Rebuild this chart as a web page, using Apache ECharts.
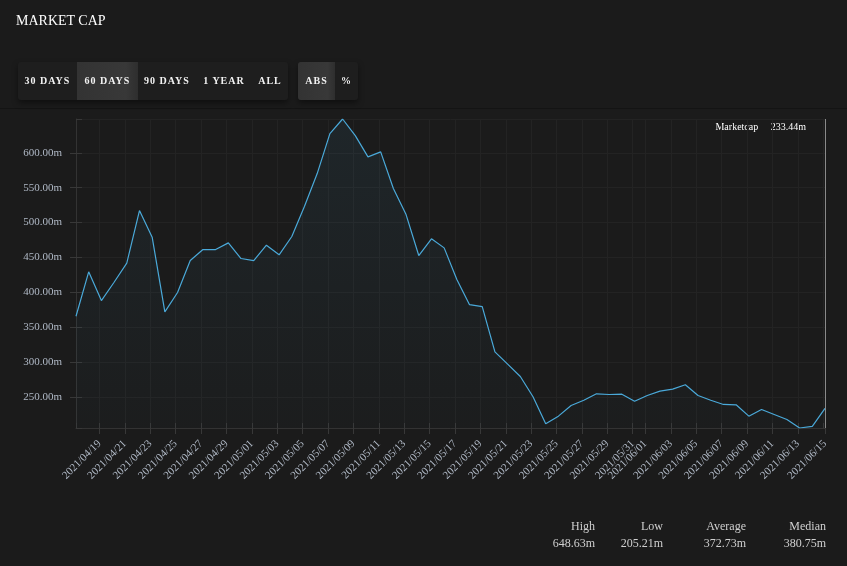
<!DOCTYPE html>
<html>
<head>
<meta charset="utf-8">
<script src="https://cdn.jsdelivr.net/npm/echarts@6/dist/echarts.min.js"></script>
<style>
  html, body { margin:0; padding:0; background:#1b1b1b; width:847px; height:566px; overflow:hidden;
    font-family:"Liberation Serif","DejaVu Serif",serif; }
  #chart { position:absolute; left:0; top:0; width:847px; height:566px; }
  .title { position:absolute; left:16px; top:13px; color:#fff; font-size:14px; }
  .divider { position:absolute; left:0; top:108px; width:847px; height:1px; background:#141414; }
  .group { position:absolute; top:62px; height:38px; background:#1e1e1e; border-radius:3px;
    box-shadow:0 3px 6px rgba(0,0,0,0.45); display:flex; overflow:hidden; }
  .btn { height:38px; line-height:38px; color:#f2f2f2; font-size:10px; font-weight:bold;
    letter-spacing:1px; text-align:center; }
  .btn.sel { background:linear-gradient(90deg,#333 0%,#383838 80%,#2e2e2e 100%); }
  .stat { position:absolute; color:#d0d0d0; font-size:12px; text-align:right; width:80px; }
</style>
</head>
<body>
<div id="chart"></div>
<div class="title">MARKET CAP</div>
<div class="divider"></div>
<div class="group" style="left:18px;width:270px;">
  <div class="btn" style="width:59px">30 DAYS</div>
  <div class="btn sel" style="width:61px">60 DAYS</div>
  <div class="btn" style="width:58px">90 DAYS</div>
  <div class="btn" style="width:56px">1 YEAR</div>
  <div class="btn" style="width:36px">ALL</div>
</div>
<div class="group" style="left:298px;width:60px;">
  <div class="btn sel" style="width:37px">ABS</div>
  <div class="btn" style="width:23px">%</div>
</div>
<div id="stats"></div>
<script>
// ---- data ----
const startDate = '2021-04-17T03:30:00';
const marketCap = [
  365.6, 429.3, 388.1, 414.4, 441.7, 517.3, 479.0, 371.9, 399.6, 445.5,
  461.3, 461.3, 470.9, 448.4, 445.5, 467.5, 453.7, 480.0, 523.4, 570.3,
  627.7, 648.63, 624.8, 594.3, 601.5, 548.8, 511.5, 452.7, 476.7, 463.7,
  418.3, 382.2, 379.3, 314.5, 296.8, 279.1, 250.0, 211.4, 222.2, 237.5,
  245.0, 254.3, 253.3, 253.7, 243.7, 251.9, 258.1, 261.0, 267.2, 251.9,
  245.1, 239.0, 238.5, 222.2, 231.8, 224.6, 217.4, 205.21, 207.5, 233.44
];
const statLabels = ['High', 'Low', 'Average', 'Median'];
const statValues = ['648.63m', '205.21m', '372.73m', '380.75m'];
const seriesName = 'Marketcap';

// consecutive daily timestamps
const DAY = 86400000;
const t0 = new Date(startDate).getTime();
const dates = marketCap.map((_, i) => t0 + i * DAY);
const seriesData = marketCap.map((v, i) => [dates[i], v]);
const lastVal = marketCap[marketCap.length - 1];
const xMin = dates[0], xMax = dates[dates.length - 1];
const yMin = Math.min(...marketCap), yMax = Math.max(...marketCap);

// stats (HTML text)
const statRight = [595, 663, 746, 826];
const statsEl = document.getElementById('stats');
statLabels.forEach((lab, i) => {
  const a = document.createElement('div');
  a.className = 'stat'; a.style.left = (statRight[i] - 80) + 'px'; a.style.top = '519px';
  a.textContent = lab; statsEl.appendChild(a);
  const b = document.createElement('div');
  b.className = 'stat'; b.style.left = (statRight[i] - 80) + 'px'; b.style.top = '536px';
  b.textContent = statValues[i]; statsEl.appendChild(b);
});

const chart = echarts.init(document.getElementById('chart'), null, { renderer: 'canvas' });
const labelColor = '#b0b9c6';
const font = 'Liberation Serif';
const tickColor = '#383838';
const xBase = {
  type: 'time', min: xMin, max: xMax,
  minInterval: 2 * DAY, maxInterval: 2 * DAY
};
const yBase = { type: 'value', min: yMin, max: yMax, splitNumber: 9 };
chart.setOption({
  backgroundColor: '#1b1b1b',
  animation: false,
  grid: { left: 76, right: 22, top: 119, bottom: 138, containLabel: false },
  xAxis: [Object.assign({}, xBase, {
    axisLine: { show: true, lineStyle: { color: '#333333', width: 1 } },
    axisTick: { show: true, length: 6, lineStyle: { color: tickColor } },
    splitLine: { show: true, lineStyle: { color: '#232323' } },
    axisLabel: {
      rotate: 45, color: labelColor, fontSize: 11, fontFamily: font, margin: 14,
      formatter: '{yyyy}/{MM}/{dd}', hideOverlap: false, showMinLabel: false, showMaxLabel: true
    }
  }), Object.assign({}, xBase, {
    position: 'bottom',
    axisLine: { show: false },
    axisTick: { show: true, inside: true, length: 5, lineStyle: { color: tickColor } },
    splitLine: { show: false },
    axisLabel: { show: false }
  })],
  yAxis: [Object.assign({}, yBase, {
    axisLine: { show: true, lineStyle: { color: '#333333', width: 1 } },
    axisTick: { show: true, length: 6, lineStyle: { color: tickColor } },
    splitLine: { show: true, lineStyle: { color: '#232323' } },
    axisLabel: {
      color: labelColor, fontSize: 11, fontFamily: font, margin: 14,
      showMinLabel: false, showMaxLabel: false,
      formatter: v => v.toFixed(2) + 'm'
    }
  }), Object.assign({}, yBase, {
    position: 'left',
    axisLine: { show: false },
    axisTick: { show: true, inside: true, length: 6, lineStyle: { color: tickColor } },
    splitLine: { show: false },
    axisLabel: { show: false }
  })],
  series: [{
    name: seriesName,
    type: 'line',
    xAxisIndex: 0, yAxisIndex: 0,
    data: seriesData,
    showSymbol: false,
    symbol: 'none',
    lineStyle: { color: '#4aa9d9', width: 1.2 },
    areaStyle: {
      color: new echarts.graphic.LinearGradient(0, 0, 0, 1, [
        { offset: 0, color: 'rgba(74,169,217,0.11)' },
        { offset: 1, color: 'rgba(74,169,217,0.02)' }
      ])
    },
    markLine: {
      silent: true, symbol: 'none', label: { show: false },
      lineStyle: { color: '#8a8a8a', type: 'solid', width: 1 },
      data: [{ xAxis: xMax }]
    }
  }],
  graphic: [
    { type: 'text', right: 41, top: 122,
      style: { text: seriesName + '     ' + lastVal.toFixed(2) + 'm', fill: '#ffffff',
               font: '10px "Liberation Serif"' } }
  ]
});
</script>
</body>
</html>
